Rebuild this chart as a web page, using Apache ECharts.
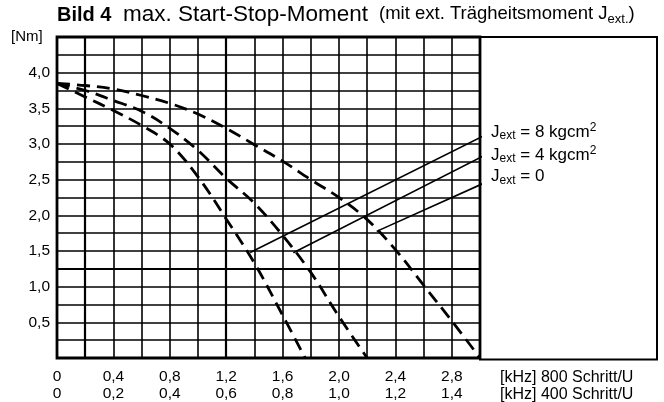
<!DOCTYPE html>
<html><head><meta charset="utf-8">
<script src="https://cdn.jsdelivr.net/npm/echarts@6/dist/echarts.min.js"></script>
<style>html,body{margin:0;padding:0;background:#fff}#c{width:664px;height:402px}</style>
</head><body><div id="c"></div>
<script>
// Data (x in kHz at 800 Schritt/U, y in Nm)
const curveJ0 = [[0,3.85],[0.2,3.82],[0.4,3.77],[0.6,3.68],[0.8,3.57],[1.0,3.42],[1.2,3.22],[1.4,2.99],[1.6,2.76],[1.8,2.50],[2.0,2.25],[2.2,1.94],[2.4,1.52],[2.6,1.02],[2.8,0.52],[3.0,0]];
const curveJ4 = [[0,3.85],[0.2,3.75],[0.4,3.61],[0.6,3.46],[0.8,3.22],[1.0,2.91],[1.2,2.52],[1.4,2.17],[1.6,1.72],[1.8,1.20],[2.0,0.58],[2.2,0]];
const curveJ8 = [[0,3.85],[0.2,3.66],[0.4,3.47],[0.6,3.26],[0.8,3.0],[1.0,2.54],[1.2,1.95],[1.4,1.33],[1.6,0.6],[1.76,0]];
const leaderJ8 = [[1.37,1.48],[3.06,3.15]];
const leaderJ4 = [[1.676,1.475],[3.06,2.87]];
const leaderJ0 = [[2.267,1.775],[3.06,2.48]];
const xTicks800 = ['0','0,4','0,8','1,2','1,6','2,0','2,4','2,8'];
const xTicks400 = ['0','0,2','0,4','0,6','0,8','1,0','1,2','1,4'];
const yTicks = ['0,5','1,0','1,5','2,0','2,5','3,0','3,5','4,0'];
const heavyGridX = [0.2, 1.2];
const heavyGridY = [1.25];
const labelJ8 = ['8 kgcm', '2'];
const labelJ4 = ['4 kgcm', '2'];
const labelJ0 = ['0', ''];

const FF = 'Liberation Sans, Arial, sans-serif';
const chart = echarts.init(document.getElementById('c'), null, {renderer: 'canvas'});

function dashed(data) {
  return {type: 'line', data, smooth: 0.35, symbol: 'none', xAxisIndex: 0, yAxisIndex: 0,
    lineStyle: {color: '#000', width: 2.8, type: [13, 7], cap: 'butt'}, z: 5};
}
function leader(data) {
  return {type: 'line', data, symbol: 'none', clip: false, xAxisIndex: 0, yAxisIndex: 0,
    lineStyle: {color: '#000', width: 1.6}, z: 6};
}
function jText(top, parts) {
  const t = '{j|J}{sub|ext}{n| = ' + parts[0] + '}' + (parts[1] ? '{sup|' + parts[1] + '}' : '');
  return {type: 'text', left: 491, top: top, z: 20, style: {text: t, fill: '#000',
    rich: {
      j: {fontSize: 17, lineHeight: 20, fontFamily: FF, fill: '#000'},
      n: {fontSize: 17, lineHeight: 20, fontFamily: FF, fill: '#000'},
      sub: {fontSize: 12, lineHeight: 12, verticalAlign: 'bottom', fontFamily: FF, fill: '#000'},
      sup: {fontSize: 12, lineHeight: 12, verticalAlign: 'top', fontFamily: FF, fill: '#000'}
    }}};
}

const option = {
  backgroundColor: '#fff',
  animation: false,
  grid: [
    {left: 57, top: 37, width: 423, height: 322.5, show: true, borderColor: '#000', borderWidth: 2.8, backgroundColor: 'transparent', containLabel: false},
    {left: 480, top: 37, width: 177, height: 322.5, show: true, borderColor: '#000', borderWidth: 2, backgroundColor: 'transparent'}
  ],
  xAxis: [
    {type: 'value', gridIndex: 0, min: 0, max: 3.0, interval: 0.2,
      axisLine: {show: false}, axisTick: {show: false},
      splitLine: {show: true, lineStyle: {color: '#000', width: 1.6}},
      axisLabel: {margin: 10, fontSize: 15.5, lineHeight: 17, color: '#000', fontFamily: FF,
        formatter: function (v) {
          const k = v / 0.4; const i = Math.round(k);
          if (Math.abs(k - i) > 1e-6 || i >= xTicks800.length) return '';
          return xTicks800[i] + '\n' + xTicks400[i];
        }}},
    {type: 'value', gridIndex: 1, show: false, min: 0, max: 1}
  ],
  yAxis: [
    {type: 'value', gridIndex: 0, min: 0, max: 4.5, interval: 0.25,
      axisLine: {show: false}, axisTick: {show: false},
      splitLine: {show: true, lineStyle: {color: '#000', width: 1.6}},
      axisLabel: {margin: 7, fontSize: 15.5, color: '#000', fontFamily: FF,
        formatter: function (v) {
          const k = v / 0.5; const i = Math.round(k);
          if (Math.abs(k - i) > 1e-6 || i < 1 || i > yTicks.length) return '';
          return yTicks[i - 1];
        }}},
    {type: 'value', gridIndex: 1, show: false, min: 0, max: 1}
  ],
  series: [
    {type: 'line', data: [], xAxisIndex: 0, yAxisIndex: 0, silent: true,
      markLine: {silent: true, symbol: 'none', label: {show: false},
        lineStyle: {color: '#000', width: 2.2, type: 'solid'},
        data: heavyGridX.map(v => ({xAxis: v})).concat(heavyGridY.map(v => ({yAxis: v})))}},
    dashed(curveJ0), dashed(curveJ4), dashed(curveJ8), leader(leaderJ8), leader(leaderJ4), leader(leaderJ0)],
  graphic: [
    {type: 'text', left: 57, top: 5, style: {text: 'Bild 4', font: 'bold 20px ' + FF, fill: '#000'}},
    {type: 'text', left: 123, top: 3, style: {text: 'max. Start-Stop-Moment', font: '22.5px ' + FF, fill: '#000'}},
    {type: 'text', left: 379, top: 4, style: {text: '{s|(mit ext. Trägheitsmoment J}{sub|ext.}{s|)}', fill: '#000',
      rich: {s: {fontSize: 18.5, lineHeight: 24, fontFamily: FF, fill: '#000'},
             sub: {fontSize: 13, lineHeight: 12, verticalAlign: 'bottom', fontFamily: FF, fill: '#000'}}}},
    {type: 'text', left: 11, top: 29, style: {text: '[Nm]', font: '15px ' + FF, fill: '#000'}},
    {type: 'text', left: 500, top: 369.5, style: {text: '[kHz] 800 Schritt/U\n[kHz] 400 Schritt/U', font: '16px ' + FF, lineHeight: 17, fill: '#000'}},
    jText(122, labelJ8), jText(145, labelJ4), jText(168, labelJ0)
  ]
};
chart.setOption(option);
</script></body></html>
